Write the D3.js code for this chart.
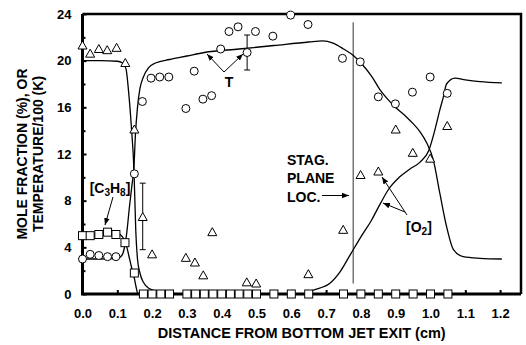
<!DOCTYPE html>
<html lang="en">
<head>
  <meta charset="UTF-8" />
  <title>Mole fraction and temperature profiles</title>
  <style>
    body { margin: 0; background: #fff; }
    svg { display: block; font-family: 'Liberation Sans', Arial, sans-serif; font-weight: bold; }
    .axis path, .axis line { stroke: #000; }
    .axis text { font-size: 13px; font-weight: bold; fill: #000; }
  </style>
</head>
<body>
  <div id="chart"></div>

  <script src="https://d3js.org/d3.v7.min.js"></script>
  <script>
    // tick labels
    const xTicks = [0, 0.1, 0.2, 0.3, 0.4, 0.5, 0.6, 0.7, 0.8, 0.9, 1.0, 1.1, 1.2];
    const yTicks = [0, 4, 8, 12, 16, 20, 24];
    const yMinor = [2, 6, 10, 14, 18, 22];

    // measured temperature / 100 (circles)
    const tempPts = [
      [0, 3.0], [0.022, 3.4], [0.047, 3.3], [0.072, 3.2], [0.096, 3.2], [0.149, 10.3],
      [0.172, 16.5], [0.197, 18.5], [0.222, 18.6], [0.248, 18.6], [0.297, 15.9], [0.321, 19.1],
      [0.346, 16.7], [0.371, 17.0], [0.397, 21.0], [0.421, 22.5], [0.447, 22.9], [0.473, 20.7],
      [0.497, 22.5], [0.547, 22.1], [0.598, 23.9], [0.648, 23.1], [0.747, 20.2], [0.798, 19.9],
      [0.85, 16.9], [0.899, 16.3], [0.948, 17.3], [0.999, 18.6], [1.048, 17.2]
    ];
    // measured O2 (triangles)
    const o2Pts = [
      [0, 21.3], [0.022, 20.6], [0.047, 21.0], [0.071, 20.9], [0.098, 21.1], [0.123, 19.8],
      [0.149, 14.1], [0.173, 6.6], [0.2, 3.4], [0.297, 3.1], [0.323, 2.7], [0.347, 1.6],
      [0.373, 5.3], [0.472, 1.0], [0.499, 0.9], [0.649, 1.7], [0.749, 5.5], [0.799, 10.2],
      [0.85, 10.5], [0.9, 14.1], [0.949, 12.1], [0.999, 11.6], [1.048, 14.4]
    ];
    // measured C3H8 (squares)
    const c3h8Pts = [
      [0, 5.0], [0.022, 5.0], [0.047, 5.1], [0.072, 5.3], [0.096, 5.1], [0.122, 4.4], [0.149, 1.8],
      [0.175, 0], [0.2, 0], [0.225, 0], [0.25, 0], [0.3, 0], [0.325, 0], [0.35, 0], [0.375, 0],
      [0.4, 0], [0.425, 0], [0.45, 0], [0.475, 0], [0.5, 0], [0.55, 0], [0.6, 0], [0.65, 0],
      [0.75, 0], [0.8, 0], [0.85, 0], [0.9, 0], [0.95, 0], [1.0, 0], [1.05, 0]
    ];
    // error bars [x, low, high]
    const errBars = [[0.173, 3.8, 9.5], [0.473, 19.2, 22.2]];

    // computed profiles (lines)
    const tempLine = [
      [0, 3.0], [0.05, 3.0], [0.1, 3.05], [0.113, 3.3], [0.12, 3.9], [0.127, 5.2], [0.135, 7.5],
      [0.142, 9.3], [0.148, 11], [0.152, 13.6], [0.158, 16.0], [0.165, 17.6], [0.175, 18.6],
      [0.19, 19.4], [0.21, 19.8], [0.25, 20.1], [0.3, 20.4], [0.35, 20.7], [0.45, 21.0],
      [0.55, 21.3], [0.65, 21.6], [0.69, 21.7], [0.72, 21.5], [0.75, 21.0], [0.78, 20.4],
      [0.8, 19.8], [0.83, 18.7], [0.855, 17.5], [0.88, 16.6], [0.903, 15.9], [0.93, 15.2],
      [0.95, 14.6], [0.97, 13.9], [0.99, 12.9], [1.008, 11.5], [1.027, 8.6], [1.046, 5.8],
      [1.066, 3.8], [1.094, 3.2], [1.142, 3.06], [1.205, 3.0]
    ];
    const o2Line = [
      [0, 20], [0.05, 20], [0.1, 19.95], [0.115, 19.8], [0.125, 19.3], [0.132, 17.5], [0.14, 14.5],
      [0.148, 10.5], [0.153, 5.5], [0.158, 3.0], [0.165, 1.8], [0.175, 1.0], [0.19, 0.5],
      [0.22, 0.2], [0.26, 0.05], [0.3, 0], [0.64, 0], [0.66, 0.3], [0.71, 0.9], [0.74, 1.9],
      [0.77, 3.4], [0.8, 4.9], [0.83, 6.3], [0.855, 7.7], [0.88, 9.0], [0.91, 10.0], [0.94, 10.7],
      [0.97, 11.3], [0.995, 12.3], [1.012, 14.0], [1.027, 15.8], [1.037, 16.9], [1.046, 18.0],
      [1.07, 18.5], [1.1, 18.35], [1.142, 18.2], [1.205, 18.1]
    ];
    const c3h8Line = [
      [0, 5.0], [0.04, 5.1], [0.07, 5.25], [0.1, 5.2], [0.115, 4.9], [0.125, 4.3], [0.133, 3.3],
      [0.14, 2.4], [0.148, 1.5], [0.154, 0.6], [0.158, 0.1], [0.162, 0]
    ];
    const stagPlane = 0.778;

    const width = 526, height = 345;
    const margin = { left: 82.5, right: 5, top: 14, bottom: 51 };

    const svg = d3.select("#chart").append("svg")
      .attr("width", width).attr("height", height);

    const x = d3.scaleLinear().domain([0, 1.26]).range([margin.left, width - margin.right]);
    const y = d3.scaleLinear().domain([0, 24]).range([height - margin.bottom, margin.top]);

    svg.append("defs").append("marker")
      .attr("id", "arr").attr("viewBox", "0 0 10 10")
      .attr("refX", 10).attr("refY", 5)
      .attr("markerWidth", 7).attr("markerHeight", 7)
      .attr("markerUnits", "userSpaceOnUse")
      .attr("orient", "auto")
      .append("path").attr("d", "M0,1L10,5L0,9Z").attr("fill", "#000");

    // stagnation plane
    svg.append("line")
      .attr("x1", x(stagPlane)).attr("x2", x(stagPlane))
      .attr("y1", y(23.3)).attr("y2", y(0.9))
      .attr("stroke", "#777").attr("stroke-width", 1.5);

    const line = d3.line().x(d => x(d[0])).y(d => y(d[1])).curve(d3.curveMonotoneX);
    [tempLine, o2Line, c3h8Line].forEach(s => {
      svg.append("path").attr("d", line(s))
        .attr("fill", "none").attr("stroke", "#000").attr("stroke-width", 1.3);
    });

    // error bars
    errBars.forEach(e => {
      const g = svg.append("g").attr("stroke", "#000").attr("stroke-width", 1);
      g.append("line").attr("x1", x(e[0])).attr("x2", x(e[0])).attr("y1", y(e[1])).attr("y2", y(e[2]));
      g.append("line").attr("x1", x(e[0]) - 3).attr("x2", x(e[0]) + 3).attr("y1", y(e[1])).attr("y2", y(e[1]));
      g.append("line").attr("x1", x(e[0]) - 3).attr("x2", x(e[0]) + 3).attr("y1", y(e[2])).attr("y2", y(e[2]));
    });

    // axes
    const gx = svg.append("g").attr("class", "axis")
      .attr("transform", `translate(0,${y(0)})`)
      .call(d3.axisBottom(x).tickValues(xTicks).tickFormat(d3.format(".1f")).tickSize(-4).tickPadding(15));
    gx.select(".domain").remove();
    gx.selectAll(".tick line").attr("stroke-width", 2);

    const gy = svg.append("g").attr("class", "axis")
      .attr("transform", `translate(${x(0)},0)`)
      .call(d3.axisLeft(y).tickValues(yTicks).tickFormat(d3.format("d")).tickSize(-4).tickPadding(11));
    gy.select(".domain").remove();
    gy.selectAll(".tick line").attr("stroke-width", 2);

    const gym = svg.append("g").attr("class", "axis")
      .attr("transform", `translate(${x(0)},0)`)
      .call(d3.axisLeft(y).tickValues(yMinor).tickFormat("").tickSize(-3));
    gym.select(".domain").remove();
    gym.selectAll(".tick line").attr("stroke-width", 2);

    // frame
    const x0 = x(0), x1 = x.range()[1], y0 = y(0), y1 = y(24);
    svg.append("path")
      .attr("d", `M${x0},${y1}L${x1},${y1}L${x1},${y0}`)
      .attr("fill", "none").attr("stroke", "#000").attr("stroke-width", 2.5);
    svg.append("path")
      .attr("d", `M${x0},${y1}L${x0},${y0}L${x1},${y0}`)
      .attr("fill", "none").attr("stroke", "#000").attr("stroke-width", 3);

    // markers
    svg.selectAll(".sq").data(c3h8Pts).enter().append("rect")
      .attr("x", d => x(d[0]) - 4).attr("y", d => y(d[1]) - 4)
      .attr("width", 8).attr("height", 8)
      .attr("fill", "#fff").attr("stroke", "#000").attr("stroke-width", 1);

    svg.selectAll(".ci").data(tempPts).enter().append("circle")
      .attr("cx", d => x(d[0])).attr("cy", d => y(d[1])).attr("r", 4)
      .attr("fill", "#fff").attr("stroke", "#000").attr("stroke-width", 1);

    svg.selectAll(".tr").data(o2Pts).enter().append("path")
      .attr("d", d => `M${x(d[0])},${y(d[1]) - 4.5}l4.5,8h-9z`)
      .attr("fill", "#fff").attr("stroke", "#000").attr("stroke-width", 1);

    // axis titles
    svg.append("text")
      .attr("x", (x0 + x1) / 2).attr("y", 338)
      .attr("text-anchor", "middle").attr("font-size", 14.5)
      .text("DISTANCE FROM BOTTOM JET EXIT (cm)");

    const yt = svg.append("g")
      .attr("transform", `translate(0,${(y0 + y1) / 2}) rotate(-90)`)
      .attr("text-anchor", "middle").attr("font-size", 14);
    yt.append("text").attr("x", 0).attr("y", 27).text("MOLE FRACTION (%), OR");
    yt.append("text").attr("x", 0).attr("y", 43).text("TEMPERATURE/100 (K)");

    // annotations
    const ann = svg.append("g").attr("stroke", "#000").attr("stroke-width", 1);
    const arrow = (ax, ay, bx, by) => ann.append("line")
      .attr("x1", ax).attr("y1", ay).attr("x2", bx).attr("y2", by)
      .attr("marker-end", "url(#arr)");

    svg.append("text").attr("x", 229).attr("y", 87).attr("text-anchor", "middle")
      .attr("font-size", 14).text("T");
    arrow(224, 72, 207, 54);
    arrow(224, 72, 243, 54);

    const c3 = svg.append("text").attr("x", 110).attr("y", 193).attr("text-anchor", "middle")
      .attr("font-size", 14);
    c3.append("tspan").text("[C");
    c3.append("tspan").attr("font-size", 10).attr("dy", 3).text("3");
    c3.append("tspan").attr("dy", -3).text("H");
    c3.append("tspan").attr("font-size", 10).attr("dy", 3).text("8");
    c3.append("tspan").attr("dy", -3).text("]");
    arrow(113, 197, 105, 225);

    const stag = svg.append("text").attr("font-size", 14);
    ["STAG.", "PLANE", "LOC."].forEach((s, i) => {
      stag.append("tspan").attr("x", 287).attr("y", 165 + i * 18.3).text(s);
    });
    arrow(322, 195.5, 349, 195.5);

    const o2t = svg.append("text").attr("x", 406).attr("y", 232).attr("font-size", 14);
    o2t.append("tspan").text("[O");
    o2t.append("tspan").attr("font-size", 10).attr("dy", 3).text("2");
    o2t.append("tspan").attr("dy", -3).text("]");
    arrow(407, 215, 382, 177);
    arrow(405, 212, 383, 203);
  </script>
</body>
</html>
